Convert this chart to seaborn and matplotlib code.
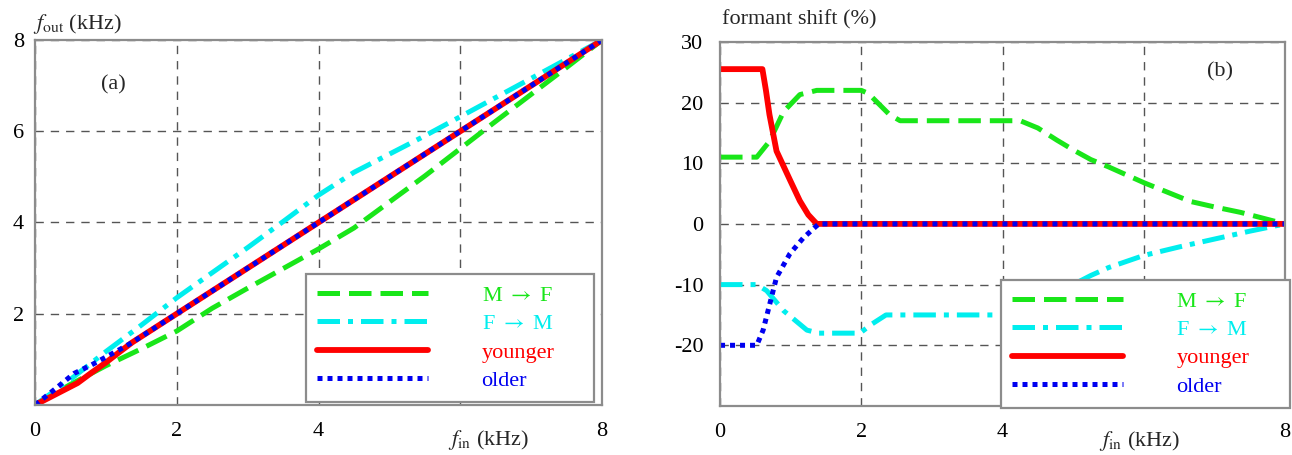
#!/usr/bin/env python3
"""Frequency warping curves (a) and formant shift (b) for four voice conversions."""

import pandas as pd
import matplotlib
matplotlib.use("Agg")
import matplotlib.pyplot as plt
import seaborn as sns

# ---- (a) output frequency vs input frequency (kHz) ----
fin_grid = [0, 0.5, 1.0, 1.5, 2.0, 2.5, 3.0, 3.5, 4.0, 4.5, 5.0, 5.5, 6.0, 6.5, 7.0, 7.5, 8.0]
fout_mf = [0, 0.45, 0.86, 1.23, 1.62, 2.12, 2.56, 2.99, 3.42, 3.88, 4.45, 5.02, 5.62, 6.22, 6.81, 7.40, 8.0]
fout_fm = [0, 0.56, 1.17, 1.75, 2.35, 2.90, 3.45, 4.02, 4.60, 5.10, 5.50, 5.90, 6.32, 6.74, 7.16, 7.58, 8.0]

fin_young = [0, 0.3, 0.6, 0.8, 1.0, 1.2, 1.37, 2.0, 4.0, 6.0, 8.0]
fout_young = [0, 0.24, 0.48, 0.71, 0.93, 1.17, 1.37, 2.0, 4.0, 6.0, 8.0]
fin_old = [0, 0.3, 0.55, 0.8, 1.0, 1.2, 1.37, 2.0, 4.0, 6.0, 8.0]
fout_old = [0, 0.37, 0.69, 0.88, 1.05, 1.22, 1.37, 2.0, 4.0, 6.0, 8.0]

# ---- (b) formant shift (%) vs input frequency (kHz) ----
mf_x = [0, 0.52, 0.7, 0.9, 1.13, 1.37, 2.0, 2.1, 2.4, 2.55, 4.25, 4.5, 4.77, 5.0, 5.25,
        5.5, 6.0, 6.66, 7.0, 7.37, 7.8, 8.0]
mf_y = [11, 11, 13.6, 18.5, 21.3, 22, 22, 21.5, 18, 17, 17, 15.8, 13.8, 12.2, 10.6,
        9.4, 6.8, 3.7, 2.8, 1.9, 0.6, 0]
fm_x = [0, 0.52, 0.66, 0.9, 1.23, 1.4, 1.98, 2.15, 2.35, 4.2, 4.6, 5.0, 5.25, 5.5,
        6.0, 6.5, 7.0, 7.5, 8.0]
fm_y = [-10, -10, -11, -14.3, -17.5, -18, -18, -16.5, -15, -15, -13, -10, -8.5, -7.2,
        -5.2, -3.8, -2.5, -1.2, 0]
young_x = [0, 0.6, 0.65, 0.7, 0.8, 0.9, 1.0, 1.13, 1.25, 1.37, 8.0]
young_y = [25.5, 25.5, 22, 18, 12, 9.5, 7, 3.8, 1.5, 0, 0]
old_x = [0, 0.52, 0.61, 0.8, 0.99, 1.18, 1.35, 1.4, 8.0]
old_y = [-20, -20, -17.5, -8.8, -4.9, -2.3, -0.5, 0, 0]

labels = [r"M $\rightarrow$ F", r"F $\rightarrow$ M", "younger", "older"]
colors = ["#19e619", "#00eeee", "#ff0000", "#0000f0"]
styles = [(0, (4.5, 1.8)), (0, (4.5, 1.6, 1.0, 1.6)), "-", (0, (1.0, 1.0))]
widths = [3.6, 3.6, 4.2, 3.6]

sns.set_theme(style="white")
plt.rcParams["font.family"] = ["Liberation Serif", "DejaVu Serif"]
plt.rcParams["mathtext.fontset"] = "stix"
plt.rcParams["axes.unicode_minus"] = False

FS = 16
GRID = "#555555"
SPINE = "#8c8c8c"


def style_axes(ax, xlim, ylim, xticks, xlabels, yticks, ylabels, ypad):
    ax.set_xlim(*xlim)
    ax.set_ylim(*ylim)
    ax.set_xticks(xticks)
    ax.set_xticklabels(xlabels)
    ax.set_yticks(yticks)
    ax.set_yticklabels(ylabels)
    ax.set_xlabel("")
    ax.set_ylabel("")
    ax.tick_params(axis="both", direction="in", length=5, width=1, color=SPINE,
                   labelsize=FS, labelcolor="black")
    ax.tick_params(axis="x", pad=12)
    ax.tick_params(axis="y", pad=ypad)
    ax.grid(True, color=GRID, linestyle=(0, (6, 5)), linewidth=1.0)
    ax.set_axisbelow(True)
    for sp in ax.spines.values():
        sp.set_color(SPINE)
        sp.set_linewidth(1.6)


def add_legend(ax, box):
    # box = (x0, y0, width) in axes fraction; single column stays left-aligned
    leg = ax.legend(loc="lower left", bbox_to_anchor=(box[0], box[1], box[2], 0),
                    mode="expand", fontsize=FS,
                    handlelength=5.0, handletextpad=2.4, labelspacing=0.35,
                    borderpad=0.5, borderaxespad=0, frameon=True, fancybox=False,
                    framealpha=1, edgecolor=SPINE, labelcolor="linecolor")
    leg.get_frame().set_linewidth(1.6)
    return leg


fig = plt.figure(figsize=(12.92, 4.55), dpi=100)
ax1 = fig.add_axes([0.0271, 0.110, 0.4389, 0.802])
ax2 = fig.add_axes([0.5573, 0.1077, 0.4373, 0.8004])

# panel (a)
left_series = [(fin_grid, fout_mf), (fin_grid, fout_fm), (fin_young, fout_young), (fin_old, fout_old)]
for (xs, ys), lab, c, ls, lw in zip(left_series, labels, colors, styles, widths):
    df = pd.DataFrame({"fin": xs, "fout": ys})
    sns.lineplot(data=df, x="fin", y="fout", ax=ax1, color=c, linestyle=ls,
                 linewidth=lw, label=lab, sort=False, estimator=None)

style_axes(ax1, (0, 8), (0, 8), [0, 2, 4, 6, 8], ["0", "2", "4", "", "8"],
           [0, 2, 4, 6, 8], ["", "2", "4", "6", "8"], 8)
add_legend(ax1, (0.478, 0.008, 0.508))
ax1.text(0.138, 0.876, "(a)", transform=ax1.transAxes, fontsize=FS,
         ha="center", va="center")
ax1.text(-0.004, 1.045, r"$f_{\rm out}$ (kHz)", transform=ax1.transAxes,
         fontsize=FS, ha="left", va="center")
ax1.text(0.80, -0.097, r"$f_{\rm in}$ (kHz)", transform=ax1.transAxes,
         fontsize=FS, ha="center", va="center")

# panel (b)
right_series = [(mf_x, mf_y), (fm_x, fm_y), (young_x, young_y), (old_x, old_y)]
for (xs, ys), lab, c, ls, lw in zip(right_series, labels, colors, styles, widths):
    df = pd.DataFrame({"fin": xs, "shift": ys})
    sns.lineplot(data=df, x="fin", y="shift", ax=ax2, color=c, linestyle=ls,
                 linewidth=lw, label=lab, sort=False, estimator=None)

style_axes(ax2, (0, 8), (-30, 30), [0, 2, 4, 6, 8], ["0", "2", "4", "", "8"],
           [-30, -20, -10, 0, 10, 20, 30], ["", "-20", "-10", "0", "10", "20", "30"], 12)
add_legend(ax2, (0.497, -0.005, 0.512))
ax2.text(0.885, 0.918, "(b)", transform=ax2.transAxes, fontsize=FS,
         ha="center", va="center")
ax2.text(0.004, 1.06, "formant shift (%)", transform=ax2.transAxes,
         fontsize=FS, ha="left", va="center")
ax2.text(0.743, -0.097, r"$f_{\rm in}$ (kHz)", transform=ax2.transAxes,
         fontsize=FS, ha="center", va="center")

fig.savefig("out.png", dpi=100)
